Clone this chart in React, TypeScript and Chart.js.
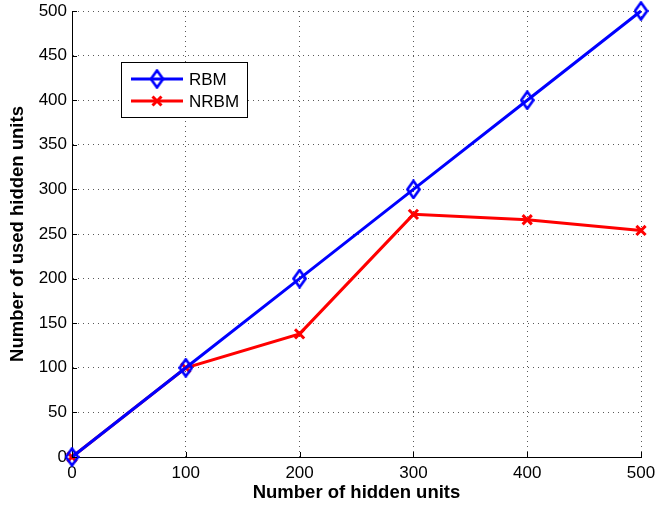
import React, { useEffect, useRef } from "react";
import { Chart, registerables } from "chart.js";

Chart.register(...registerables);

const hiddenUnits = [0, 100, 200, 300, 400, 500];
const rbmUsed = [0, 100, 200, 300, 400, 500];
const nrbmUsed = [0, 100, 138, 272, 266, 254];
const seriesNames = ["RBM", "NRBM"];
const seriesColors = ["#0000ff", "#ff0000"];
const xTitle = "Number of hidden units";
const yTitle = "Number of used hidden units";

const FONT = "'Liberation Sans', Arial, Helvetica, sans-serif";

function makeDiamond(color: string) {
  const c = document.createElement("canvas");
  const w = 15, h = 20;
  c.width = w;
  c.height = h;
  const ctx = c.getContext("2d")!;
  ctx.strokeStyle = color;
  ctx.lineWidth = 2.6;
  ctx.beginPath();
  ctx.moveTo(w / 2, 1.5);
  ctx.lineTo(w - 1.5, h / 2);
  ctx.lineTo(w / 2, h - 1.5);
  ctx.lineTo(1.5, h / 2);
  ctx.closePath();
  ctx.stroke();
  return c;
}

export default function App() {
  const ref = useRef<HTMLCanvasElement>(null);
  useEffect(() => {
    const diamond = makeDiamond(seriesColors[0]);
    const decor = {
      id: "decor",
      afterDraw(chart: any) {
        const { ctx, chartArea } = chart;
        const xs = chart.scales.x;
        const ys = chart.scales.y;
        ctx.save();
        ctx.strokeStyle = "#000";
        ctx.lineWidth = 1;
        hiddenUnits.forEach((v) => {
          const x = Math.round(xs.getPixelForValue(v)) + 0.5;
          ctx.beginPath();
          ctx.moveTo(x, chartArea.bottom);
          ctx.lineTo(x, chartArea.bottom - 5);
          ctx.stroke();
        });
        for (let v = 0; v <= 500; v += 50) {
          const y = Math.round(ys.getPixelForValue(v)) + 0.5;
          ctx.beginPath();
          ctx.moveTo(chartArea.left, y);
          ctx.lineTo(chartArea.left + 5, y);
          ctx.stroke();
        }
        // legend
        const lx = 121.5, ly = 62.5, lw = 126, lh = 55;
        ctx.fillStyle = "#fff";
        ctx.fillRect(lx, ly, lw, lh);
        ctx.strokeStyle = "#000";
        ctx.lineWidth = 1;
        ctx.strokeRect(lx, ly, lw, lh);
        const rows = [79, 101];
        rows.forEach((ry, i) => {
          ctx.strokeStyle = seriesColors[i];
          ctx.lineWidth = 3;
          ctx.beginPath();
          ctx.moveTo(131, ry);
          ctx.lineTo(183, ry);
          ctx.stroke();
          if (i === 0) {
            ctx.drawImage(diamond, 157 - diamond.width / 2, ry - diamond.height / 2);
          } else {
            ctx.lineWidth = 3;
            const r = 4.5;
            ctx.beginPath();
            ctx.moveTo(157 - r, ry - r);
            ctx.lineTo(157 + r, ry + r);
            ctx.moveTo(157 + r, ry - r);
            ctx.lineTo(157 - r, ry + r);
            ctx.stroke();
          }
          ctx.fillStyle = "#000";
          ctx.font = `17px ${FONT}`;
          ctx.textBaseline = "middle";
          ctx.textAlign = "left";
          ctx.fillText(seriesNames[i], 189, ry + 1);
        });
        ctx.restore();
      },
    };
    const chart = new Chart(ref.current!, {
      type: "line",
      data: {
        datasets: [
          {
            label: seriesNames[0],
            data: hiddenUnits.map((x, i) => ({ x, y: rbmUsed[i] })),
            borderColor: seriesColors[0],
            borderWidth: 3,
            pointStyle: diamond as any,
            pointRadius: 8,
            tension: 0,
            clip: false as any,
          },
          {
            label: seriesNames[1],
            data: hiddenUnits.map((x, i) => ({ x, y: nrbmUsed[i] })),
            borderColor: seriesColors[1],
            backgroundColor: seriesColors[1],
            borderWidth: 3,
            pointStyle: "crossRot",
            pointRadius: 6.5,
            pointBorderWidth: 3,
            tension: 0,
            clip: false as any,
          },
        ],
      },
      options: {
        animation: false,
        responsive: false,
        layout: { padding: { top: 10, right: 14, left: 0, bottom: 0 } },
        plugins: { legend: { display: false }, tooltip: { enabled: false } },
        scales: {
          x: {
            type: "linear",
            min: 0,
            max: 500,
            ticks: { stepSize: 100, color: "#000", font: { family: FONT, size: 17 }, padding: 6, maxRotation: 0 },
            grid: { color: "rgba(0,0,0,0.65)", lineWidth: 1, drawTicks: false },
            border: { display: true, color: "#000", width: 1, dash: [1, 4] } as any,
            title: { display: true, text: xTitle, color: "#000", font: { family: FONT, size: 18.5, weight: "bold" }, padding: { top: 0, bottom: 1 } },
            afterFit: (s: any) => { s.height = 48; s.paddingLeft = 0; s.paddingRight = 0; },
          },
          y: {
            type: "linear",
            min: 0,
            max: 500,
            ticks: { stepSize: 50, color: "#000", font: { family: FONT, size: 17 }, padding: 5 },
            grid: { color: "rgba(0,0,0,0.65)", lineWidth: 1, drawTicks: false },
            border: { display: true, color: "#000", width: 1, dash: [1, 4] } as any,
            title: { display: true, text: yTitle, color: "#000", font: { family: FONT, size: 18.5, weight: "bold" }, padding: { top: 7, bottom: 0 } },
            afterFit: (s: any) => { s.width = 72; s.paddingTop = 0; s.paddingBottom = 0; },
          },
        },
      } as any,
      plugins: [decor],
    });
    return () => chart.destroy();
  }, []);
  return (
    <div style={{ position: "absolute", left: 0, top: 0, width: 655, height: 505, background: "#fff" }}>
      <canvas ref={ref} width={655} height={505} />
    </div>
  );
}
